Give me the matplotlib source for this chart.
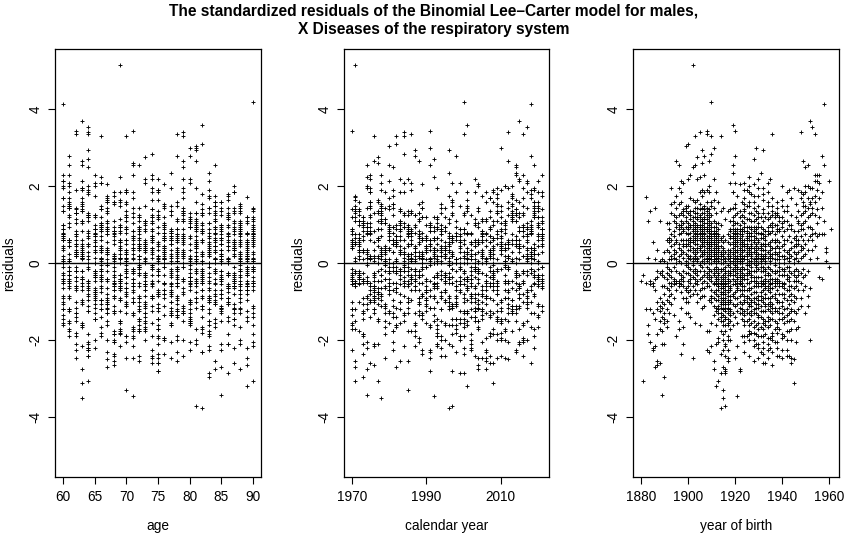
import numpy as np
import matplotlib
matplotlib.use("Agg")
import matplotlib.pyplot as plt

# ── Data ──────────────────────────────────────────────────────────────────────
# standardized residuals, one string per birth cohort (1880..1961),
# values ordered by age, starting at the youngest age observed in 1970..2021
AGE_MIN, AGE_MAX = 60, 90
YEAR_MIN, YEAR_MAX = 1970, 2021
COHORTS = list(range(1880, 1962))
RESID_BY_COHORT = [
    "-0.47",
    "-0.3 -3.05",
    "-1.2 1.73 -0.5",
    "-1.6 0.15 1.1 -1.85",
    "-0.55 -1.2 1.35 -0.45 -2.05",
    "-2.25 -0.6 0.55 -1.3 -2.2 -0.5",
    "-0.4 -2.7 0.1 -1.45 1.45 -0.7 -2.15",
    "-1.2 -2.55 0.35 -1.85 -0.35 -1.0 -2.65 -0.2",
    "-1.7 -0.25 1.1 -1.25 -0.9 -2.6 0.05 -1.5 -1.1",
    "-1.0 -0.2 -1.75 0.1 -3.42 -1.4 -0.6 -2.1 -0.3 -1.15",
    "-1.55 0.05 -0.35 -2.95 -1.05 -0.8 -2.1 -1.45 0.3 -0.6 -1.3",
    "-0.4 -1.5 -0.25 1.05 0.35 -0.95 -1.2 0.0 -0.65 -1.65 -0.1 0.6",
    "-0.15 0.55 -1.0 0.3 -0.5 1.05 -0.85 0.65 -0.3 -1.3 0.1 -0.7 0.9",
    "0.6 -0.5 0.75 -1.05 1.95 0.2 -0.35 1.3 -0.8 0.45 -0.6 1.55 0.1 -0.2",
    "-1.35 0.5 1.1 -0.45 0.15 1.6 0.85 -0.9 1.25 -0.4 0.35 -0.1 0.7 -0.55 0.25",
    "1.2 -0.5 0.6 -1.9 0.0 0.95 2.65 -0.45 1.45 0.3 -0.7 1.75 0.55 -0.2 1.05 0.1",
    "0.4 -1.7 1.0 -0.5 0.75 1.95 -0.45 0.2 1.55 -1.5 2.55 1.25 -0.25 0.9 -0.6 0.5 0.05",
    "-0.55 1.1 0.35 -2.35 0.8 1.6 -0.75 0.0 1.3 -0.4 2.15 0.95 -1.15 0.6 1.85 -0.3 0.25 1.0",
    "0.85 -0.45 1.4 -2.1 0.3 1.25 -0.9 0.6 2.1 1.05 -0.2 0.5 -1.65 1.35 0.15 -0.6 0.9 0.45 -0.35",
    "-0.25 1.2 0.45 -0.9 0.95 1.5 -1.3 0.6 1.35 -0.05 3.05 0.8 -0.65 1.1 0.25 -1.0 0.5 0.05 -0.7 1.45",
    "0.9 -0.6 0.5 -1.3 1.05 2.2 0.15 -0.75 1.5 0.35 -0.25 0.95 3.1 -1.0 0.6 0.0 1.3 -0.45 0.75 0.2 -0.1",
    "0.55 1.35 -0.4 0.95 -0.85 2.3 0.2 0.65 -0.15 1.15 1.7 -1.4 0.45 1.0 -0.5 0.8 0.1 1.25 -0.3 0.6 0.35 -0.7",
    "-0.35 5.15 0.3 1.2 -0.05 0.85 -0.6 1.65 0.4 -2.45 0.9 2.5 0.05 1.1 -0.35 0.7 1.35 -0.2 0.55 -0.8 1.0 0.15 0.6",
    "0.75 -0.5 1.6 0.35 2.55 1.2 -0.25 0.9 0.1 1.45 -0.7 0.6 3.3 -1.55 0.95 0.25 1.3 -0.15 0.5 0.8 -0.4 1.05 0.2 0.65",
    "0.4 1.65 -0.55 1.0 0.15 1.45 -0.3 2.75 0.7 1.15 -0.8 0.5 0.05 2.2 1.3 -0.2 0.85 0.3 -1.0 0.6 1.2 -0.45 0.95 0.1 0.75",
    "0.9 1.4 -0.2 0.6 2.25 1.85 -0.7 0.45 1.1 -0.05 0.8 1.55 -1.6 0.35 3.4 0.95 -0.4 1.25 0.2 0.65 -0.9 1.0 0.4 0.0 0.75 1.2",
    "0.5 1.75 -0.35 1.1 0.25 0.8 -0.85 2.6 1.45 0.05 0.6 1.9 -0.5 0.9 0.3 -1.15 0.7 2.95 1.3 -0.1 0.45 1.0 -0.65 0.2 0.85 0.55 1.15",
    "1.4 0.65 -0.3 1.2 0.35 1.85 -0.65 0.9 2.3 0.1 1.5 -1.1 0.55 1.05 -0.2 0.75 0.25 2.8 1.3 -0.85 0.45 0.95 0.0 1.15 0.6 -0.45 0.8 0.3",
    "3.45 0.5 1.25 -0.25 0.95 1.6 -0.6 0.15 1.9 1.05 0.4 -1.75 0.7 1.35 -0.1 0.85 3.35 0.2 1.15 -0.5 0.6 -2.25 0.3 0.9 0.05 1.45 -0.35 0.55 0.1",
    "0.45 1.3 -0.4 0.85 2.0 0.1 -0.95 1.1 0.35 1.85 0.7 -1.75 0.5 1.4 -0.2 0.9 0.15 -0.6 2.65 1.2 0.4 -2.3 0.65 0.0 1.0 -0.3 0.55 0.25 0.8 -0.15",
    "0.6 1.5 0.2 1.05 -0.45 0.75 3.3 1.6 -0.85 0.35 0.95 -0.2 0.5 -1.0 2.85 1.25 0.1 -1.55 0.65 0.3 -0.7 0.85 0.0 -2.15 0.45 -0.35 0.7 0.2 -0.9 0.55 4.2",
    "0.75 -0.3 0.35 -2.75 0.1 0.55 -0.75 0.25 -1.1 0.85 -0.5 0.6 -2.55 0.4 2.2 -0.15 0.95 -1.35 0.2 0.7 3.0 -0.9 0.05 1.45 -0.25 0.5 1.65 1.1 -0.55 0.3 0.8",
    "0.65 -0.4 0.85 0.15 1.3 -0.8 1.05 0.4 -1.25 0.6 -0.2 1.85 0.95 -0.55 0.25 -1.6 0.7 0.0 -0.95 0.5 -0.35 -2.1 0.3 -0.7 0.45 -1.15 0.1 -0.45 0.8 -3.2 -0.1",
    "0.7 -1.2 -0.6 0.35 -3.05 -0.95 0.05 -0.4 -2.05 0.55 -0.15 -1.3 0.2 -0.7 0.4 -1.95 -0.3 0.6 -0.85 0.15 -1.45 0.9 -0.5 0.3 1.6 -1.1 0.75 -0.25 1.05 -0.6 0.45",
    "-0.45 0.6 -1.0 1.35 0.2 -0.65 1.0 -1.3 -0.2 0.45 3.3 -0.9 -1.75 0.1 -0.5 -2.35 0.3 -1.15 -0.35 0.65 -1.5 -0.75 -3.75 0.0 -1.05 -0.55 -2.85 0.25 -0.8 -1.4 -0.15",
    "0.2 -1.2 -0.65 -3.5 -1.85 0.0 -0.95 -2.7 -0.3 -1.5 -3.3 -0.5 0.4 -1.05 -2.25 -0.75 0.1 -1.35 -0.6 -2.0 0.35 -0.9 -0.15 -1.6 0.55 -0.4 1.45 -1.2 0.25 -0.8 0.7",
    "-0.25 0.6 1.15 -1.05 -0.5 0.3 -1.4 -0.8 -0.1 -1.75 -0.35 -2.15 -0.9 0.15 -1.25 -2.8 -0.55 -1.6 -0.2 -2.4 -1.0 -3.7 -0.7 -2.85 -1.45 -0.45 -2.1 -1.15 -2.75 -0.6 0.05",
    "-1.05 -0.45 0.25 -1.55 -2.25 -0.75 -1.2 -0.05 -2.55 -0.95 -1.9 -0.2 -1.45 -0.6 -2.45 -1.15 0.35 -0.85 -2.0 -0.4 -1.6 0.1 -0.7 -1.3 0.75 -0.3 -1.0 1.35 0.2 -0.5 0.55",
    "0.9 -0.2 1.4 0.3 -0.65 0.7 2.1 -1.0 0.05 -0.45 1.1 -1.35 -0.1 0.5 -0.85 -1.7 0.2 -0.3 -1.2 0.65 -0.6 -2.0 0.0 -0.95 0.35 -1.5 -0.25 0.85 -0.7 -1.25 0.15",
    "0.05 -0.2 0.5 -1.6 0.3 -0.85 1.0 -0.4 0.8 0.15 -1.3 0.65 2.55 -0.55 1.2 0.0 0.4 2.35 -1.05 1.85 -0.15 0.9 3.6 0.25 -0.8 1.45 0.7 1.85 0.55 -0.3 1.1",
    "0.6 1.45 -0.1 0.85 1.25 -0.45 2.1 0.3 1.55 0.0 -0.75 3.45 0.65 1.05 -0.3 0.45 -1.1 0.2 2.8 0.9 -0.55 0.1 -1.4 0.55 -0.2 0.75 -0.9 0.35 -0.05 -2.45 0.5",
    "0.0 -0.65 0.3 -2.15 -0.1 0.8 -0.4 -1.05 0.15 -0.7 0.6 -3.45 -0.25 0.35 -1.55 0.05 -0.5 0.7 -1.25 0.2 -0.35 0.55 -0.9 1.05 1.75 0.1 -0.6 0.45 1.3 -0.15 0.9",
    "1.0 0.25 -0.45 1.35 0.5 -0.2 0.85 2.05 -0.7 0.1 1.2 -1.0 0.4 -0.35 0.65 -2.8 0.0 -0.55 0.9 -1.3 0.2 -0.15 0.6 -0.85 -2.75 0.35 -0.3 0.75 -1.15 0.05 -0.5",
    "-0.4 0.05 -1.3 0.6 -0.7 0.3 -0.15 -1.05 0.85 -0.5 0.5 -1.9 0.2 -0.25 0.7 -1.45 0.45 -0.8 0.15 1.25 -0.35 0.55 -1.2 0.0 0.9 1.6 -0.6 0.35 1.1 -0.1 0.75",
    "-1.35 0.45 1.9 -0.6 -2.05 1.2 0.1 -1.6 0.85 -0.3 1.55 -1.0 0.35 2.1 -0.85 -1.9 0.6 1.35 -0.4 -1.25 0.95 0.2 -2.3 1.7 -0.7 0.5 -1.5 1.05 -0.15 -0.95 1.4",
    "0.7 -0.3 -1.3 0.2 -0.85 0.45 -0.05 -1.5 0.95 -0.4 0.25 -1.0 0.6 0.0 -1.9 0.5 -0.7 0.8 -0.15 0.3 -1.2 1.15 -0.5 1.9 0.1 0.65 -0.9 0.4 1.5 -0.25 0.85",
    "0.8 -1.75 -0.2 1.6 -1.1 0.35 2.25 -0.65 -2.4 0.95 -0.05 1.3 -1.45 0.6 -0.9 1.85 -2.0 0.25 -0.5 1.15 -1.3 0.7 -0.25 -1.85 1.5 0.05 -1.05 2.0 -0.7 0.4 -1.6",
    "-0.3 -1.25 0.25 -0.95 0.45 0.0 -1.8 0.9 -0.45 0.15 -1.1 0.7 -0.1 -1.55 0.3 -0.8 0.6 0.05 -1.35 1.1 -0.35 0.4 1.8 -1.0 0.8 0.2 -0.65 1.3 0.5 -0.2 0.95",
    "-0.9 1.45 0.3 -1.65 2.7 -0.35 -1.2 0.85 1.75 -2.15 0.1 -0.75 1.25 -1.5 0.55 -0.2 2.05 -1.0 -2.55 0.7 1.1 -0.45 -1.8 0.4 1.6 -1.3 0.0 0.95 -2.0 0.6 -0.6",
    "0.1 -0.45 -1.15 0.25 -2.1 -0.75 0.35 -0.05 -1.85 0.95 -0.35 0.15 -1.6 0.5 -0.1 -1.05 0.8 -0.6 0.3 -1.3 0.65 3.0 0.05 -0.9 1.15 -0.2 0.45 -0.5 0.9 0.2 1.35",
    "-1.55 0.6 -0.35 1.95 -2.2 0.15 1.05 -1.15 -0.6 1.5 -1.9 0.4 -0.85 2.2 -0.15 -2.45 0.8 -1.35 0.25 1.3 -0.95 -1.7 0.55 1.75 -0.5 -2.1 0.95 -1.05 0.0 1.2 -1.4",
    "0.05 -0.6 -1.9 0.2 -0.95 0.45 -0.35 -2.3 0.15 -1.25 0.8 -0.5 0.0 -1.65 0.35 -0.85 -0.1 0.65 -1.4 0.25 -0.45 0.5 -1.1 2.35 0.1 0.95 -0.75 0.4 -0.2 1.2 0.75",
    "0.35 -1.9 1.3 -0.7 2.95 -1.45 -0.2 0.9 -2.35 1.65 -1.0 0.1 -1.7 1.1 -0.45 -2.6 0.65 1.95 -1.25 -0.1 -2.05 0.5 1.4 -0.9 -1.55 0.2 1.8 -2.2 -0.55 0.75",
    "-0.5 -0.9 0.25 -1.6 -0.15 -1.05 0.7 -0.4 0.0 -1.85 -0.65 0.5 -1.25 -0.3 0.15 -2.6 -0.8 0.35 0.05 -1.5 -0.45 0.6 -1.1 0.2 -0.2 0.85 1.2 -0.6 0.45",
    "-1.2 0.95 -2.1 1.5 -0.45 2.1 -1.65 0.3 -0.9 1.15 -2.45 -0.25 0.75 -1.4 1.85 -0.7 -1.95 0.5 -0.1 1.3 -2.25 -0.6 0.85 -1.5 0.15 1.6 -1.05 -0.3",
    "-1.6 -0.5 0.2 -1.0 0.0 -2.2 -0.65 0.55 -1.25 -0.4 0.15 -1.95 -0.9 0.35 -0.15 -1.45 1.0 -0.75 0.05 -1.1 2.2 0.45 -0.3 0.8 -0.55 0.25 1.2",
    "-0.85 1.25 -1.8 0.4 3.35 -1.3 -0.2 1.05 -2.65 0.6 -1.05 1.7 -0.5 -2.0 0.85 -1.45 0.15 1.35 -2.3 -0.65 0.95 -1.15 0.25 -1.9 1.5 -0.4",
    "-0.5 -1.7 0.3 -0.2 -1.25 0.75 -0.6 0.0 -2.05 -0.9 0.25 -0.4 -1.5 0.55 -0.05 -1.15 1.2 -0.25 0.4 -0.8 0.1 1.0 1.3 -0.45 0.6",
    "0.6 -1.55 1.3 -0.4 -2.2 1.0 -0.95 0.25 1.6 -1.8 -0.2 0.85 -2.4 -0.7 1.25 -1.25 0.45 -2.05 -0.5 1.45 -1.0 0.1 -1.65 0.9",
    "-1.45 -0.2 -0.6 0.1 -2.4 -1.15 0.85 -0.45 0.2 -1.7 -0.8 0.4 -0.1 -1.3 1.2 -0.3 0.3 -1.0 0.55 1.1 -0.5 0.0 0.9",
    "-1.0 1.5 -2.25 0.45 2.0 -1.45 -0.3 0.95 -1.85 -0.6 1.2 -2.45 0.2 -1.1 1.65 -0.8 -1.95 0.7 -0.15 -1.3 1.05 -0.5",
    "-0.65 0.1 -1.4 -0.2 -0.8 0.6 -1.9 0.0 -0.5 -1.55 0.35 -0.15 -1.2 1.1 -0.55 0.2 -0.9 0.85 -0.3 1.35 0.5",
    "-0.4 1.85 -1.5 0.3 -2.25 0.9 -0.95 1.35 -2.0 -0.3 0.6 -1.75 1.1 -1.15 -2.4 0.15 -0.7 1.5 -1.35 -0.1",
    "-0.1 -1.5 -0.7 0.15 -2.4 -0.2 -1.05 0.35 -1.75 -0.45 0.05 -1.3 -0.6 1.0 -0.85 1.9 0.25 -0.35 0.7",
    "-1.2 0.55 -2.45 1.7 -0.6 -1.45 0.9 -2.0 0.2 -0.95 1.25 -1.7 -0.25 0.4 -2.6 -0.8 1.0 -1.25",
    "0.0 -0.85 -0.2 -3.1 -1.25 0.45 -0.45 -2.5 0.1 -1.5 -0.65 0.85 -1.0 0.3 1.95 -0.3 0.65",
    "0.45 1.2 -0.35 1.55 0.7 -0.9 0.15 -1.3 0.5 -0.6 -2.05 0.25 -0.15 -1.7 0.6 -0.45",
    "1.35 0.6 -0.2 1.9 1.1 -0.7 0.3 -1.2 0.85 -0.45 0.05 -1.65 0.5 -0.3 1.05",
    "1.0 1.7 0.45 -0.5 3.4 1.25 0.15 -0.9 0.7 1.85 -0.25 0.35 -1.1 0.9",
    "1.5 1.05 0.2 2.65 1.8 -0.35 0.6 1.3 -0.7 0.4 1.6 -0.15 0.9",
    "1.35 2.0 0.5 1.1 2.5 -0.3 1.5 0.75 -1.3 0.25 1.85 -0.6",
    "2.0 1.45 0.6 2.55 1.2 -0.2 0.35 1.7 -0.85 0.95 -1.1",
    "1.95 1.55 0.7 3.7 1.25 -2.0 0.95 0.1 1.6 -0.65",
    "1.7 0.6 1.3 1.95 3.55 0.9 0.35 1.45 0.75",
    "2.3 1.6 3.35 2.15 0.8 1.25 0.45 1.75",
    "2.15 2.3 1.05 0.15 1.9 0.7 1.4",
    "1.7 2.1 0.75 -0.35 1.2 2.3",
    "0.75 2.8 1.45 -0.4 1.85",
    "4.15 2.55 0.75 1.1",
    "0.4 0.05 0.3",
    "2.15 -0.1",
    "0.9",
]

TITLE = ("The standardized residuals of the Binomial Lee\u2013Carter model for males,\n"
         "X Diseases of the respiratory system")
AGE_TICKS = [60, 65, 70, 75, 80, 85, 90]
YEAR_TICKS = [1970, 1990, 2010]
BIRTH_TICKS = [1880, 1900, 1920, 1940, 1960]

plt.rcParams["font.family"] = ["Liberation Sans", "DejaVu Sans"]
plt.rcParams["axes.unicode_minus"] = False


# ── Helpers ───────────────────────────────────────────────────────────────────
def build_cells():
    ages, years, births, res = [], [], [], []
    bad = []
    for c, s in zip(COHORTS, RESID_BY_COHORT):
        vals = [float(v) for v in s.split()]
        a0 = max(AGE_MIN, YEAR_MIN - c)
        a1 = min(AGE_MAX, YEAR_MAX - c)
        if len(vals) != a1 - a0 + 1:
            bad.append((c, len(vals), a1 - a0 + 1))
        for k, v in enumerate(vals[: a1 - a0 + 1]):
            ages.append(a0 + k); years.append(c + a0 + k); births.append(c); res.append(v)
    if bad:
        raise ValueError(f"cohort length mismatch: {bad}")
    return np.array(ages), np.array(years), np.array(births), np.array(res)


def r_range(lo, hi):
    pad = 0.04 * (hi - lo)
    return lo - pad, hi + pad


def residual_panel(ax, x, r, ticks, xlabel, ylim):
    ax.plot(x, r, linestyle="none", marker="+", ms=2.5, mew=0.65, color="black")
    ax.axhline(0, color="black", lw=1.0)
    ax.set_xlim(*r_range(x.min(), x.max()))
    ax.set_ylim(*ylim)
    ax.set_xticks(ticks)
    ax.set_yticks([-4, -2, 0, 2, 4])
    ax.tick_params(direction="out", length=5, width=0.8, labelsize=9.8, pad=4)
    for lab in ax.get_yticklabels():
        lab.set_rotation(90); lab.set_va("center")
    ax.set_xlabel(xlabel, fontsize=9.8, labelpad=11)
    ax.set_ylabel("residuals", fontsize=9.8, labelpad=9)
    for sp in ax.spines.values():
        sp.set_linewidth(0.9)


# ── Plot ──────────────────────────────────────────────────────────────────────
ages, years, births, res = build_cells()
lim = np.abs(res).max() * 1.08

fig = plt.figure(figsize=(8.67, 5.46), dpi=100)
bottom, height, width = 0.1258, 0.7839, 0.2369
panels = [
    (0.0638, ages, AGE_TICKS, "age"),
    (0.3968, years, YEAR_TICKS, "calendar year"),
    (0.7305, births, BIRTH_TICKS, "year of birth"),
]
for left, x, ticks, lab in panels:
    ax = fig.add_axes([left, bottom, width, height])
    residual_panel(ax, x, res, ticks, lab, (-lim, lim))

fig.text(0.5, 0.993, TITLE, ha="center", va="top", fontsize=11.2,
         fontweight="bold", linespacing=1.25)
fig.savefig("out.png", dpi=100)
